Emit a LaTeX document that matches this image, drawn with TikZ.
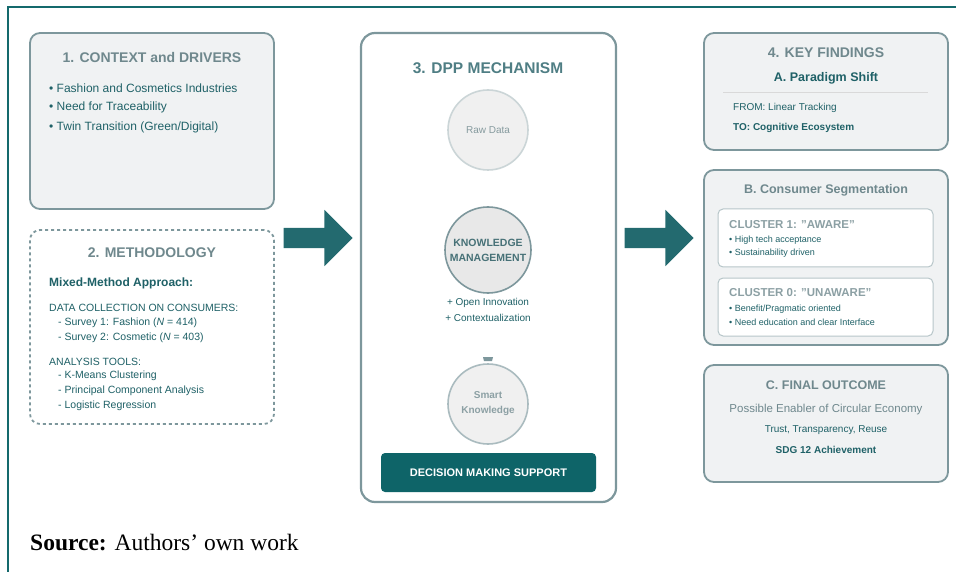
\documentclass[tikz,border=0pt]{standalone}
\usepackage{fontspec}
\setmainfont{Liberation Sans}
\newfontfamily\captionserif{Liberation Serif}
\usepackage{xcolor}
\usepackage{tikz}
\usetikzlibrary{shapes,arrows,positioning,calc,arrows.meta}

\definecolor{frameteal}{HTML}{14696C}
\definecolor{boxline}{HTML}{7D979C}
\definecolor{boxfill}{HTML}{F0F2F3}
\definecolor{titlegray}{HTML}{6F888D}
\definecolor{textteal}{HTML}{1F6167}
\definecolor{dppteal}{HTML}{4F7E84}
\definecolor{supportteal}{HTML}{0E6468}
\definecolor{arrowteal}{HTML}{236A6F}

\begin{document}
\begin{tikzpicture}[x=1pt, y=-1pt,
    panel/.style={rectangle, rounded corners=10pt, draw=boxline, line width=1.8pt, fill=boxfill, inner sep=0pt},
    title/.style={font=\fontsize{14}{16}\selectfont\bfseries, text=titlegray},
    subtitle/.style={font=\fontsize{12.5}{14}\selectfont\bfseries, text=titlegray},
    item/.style={anchor=west, inner sep=0pt, font=\fontsize{12}{14}\selectfont, text=textteal},
    small/.style={anchor=west, inner sep=0pt, font=\fontsize{10.5}{12}\selectfont, text=textteal},
    tiny/.style={anchor=west, inner sep=0pt, font=\fontsize{9}{11}\selectfont, text=textteal},
    cluster/.style={rectangle, rounded corners=5pt, draw=boxline!55, line width=1pt, fill=white, inner sep=0pt, minimum width=215pt, minimum height=58pt},
    stage/.style={circle, minimum size=80pt, inner sep=0pt, align=center, line width=1.6pt},
    bigarrow/.style={single arrow, fill=arrowteal, inner xsep=0pt, inner ysep=10pt, minimum height=69pt, minimum width=56pt, single arrow head extend=18pt, single arrow head indent=0pt}
]

\useasboundingbox (0,0) rectangle (956,572);

% Frame
\draw[frameteal, line width=2.2pt] (8,572) -- (8,7) -- (956,7);

% 1. Context
\node[panel, minimum width=244pt, minimum height=176pt] (context) at (152,121) {};
\node[title] (contexttitle) at (152,57) {1. CONTEXT and DRIVERS};
\node[item] (ctx1) at (49,88) {• Fashion and Cosmetics Industries};
\node[item] (ctx2) at (49,107) {• Need for Traceability};
\node[item] (ctx3) at (49,127) {• Twin Transition (Green/Digital)};

% 2. Methodology
\node[panel, fill=white, dashed, minimum width=244pt, minimum height=194pt] (method) at (152,327) {};
\node[title] (methodtitle) at (152,253) {2. METHODOLOGY};
\node[item, font=\fontsize{12}{14}\selectfont\bfseries] (mixed) at (49,283) {Mixed-Method Approach:};
\node[small] (collect) at (49,308) {DATA COLLECTION ON CONSUMERS:};
\node[small] (survey1) at (58,323) {- Survey 1: Fashion (\textit{N} = 414)};
\node[small] (survey2) at (58,338) {- Survey 2: Cosmetic (\textit{N} = 403)};
\node[small] (tools) at (49,362) {ANALYSIS TOOLS:};
\node[small] (tool1) at (58,376) {- K-Means Clustering};
\node[small] (tool2) at (58,391) {- Principal Component Analysis};
\node[small] (tool3) at (58,406) {- Logistic Regression};

% 3. DPP mechanism
\node[panel, fill=white, rounded corners=14pt, line width=2.2pt, minimum width=255pt, minimum height=469pt] (dpp) at (488.5,267.5) {};
\node[title, font=\fontsize{15.5}{17}\selectfont\bfseries, text=dppteal] (dpptitle) at (488,68) {3. DPP MECHANISM};
\node[stage, fill=black!6, draw=boxline!40, font=\fontsize{10}{11}\selectfont, text=titlegray!85] (raw) at (488,130) {Raw Data};
\node[stage, minimum size=86pt, fill=black!9, draw=boxline, font=\fontsize{10.5}{15}\selectfont\bfseries, text=dppteal!90!black] (km) at (488,250) {KNOWLEDGE\\MANAGEMENT};
\node[small, anchor=center, font=\fontsize{10}{12}\selectfont] (openinno) at (488,303) {+ Open Innovation};
\node[small, anchor=center, font=\fontsize{10}{12}\selectfont] (context2) at (488,318) {+ Contextualization};
\node[stage, fill=black!6, draw=boxline!65, font=\fontsize{10}{15}\selectfont\bfseries, text=titlegray!80] (smart) at (488,404) {Smart\\Knowledge};
\fill[boxline] ($(smart.north)+(-5,-6)$) -- ++(10,0) -- ++(-1,4) -- ++(-8,0) -- cycle;
\node[rectangle, rounded corners=4pt, fill=supportteal, minimum width=215pt, minimum height=39pt, text=white, font=\fontsize{11}{13}\selectfont\bfseries] (support) at (488.5,472.5) {DECISION MAKING SUPPORT};

% Block arrows
\node[bigarrow] (arrowin) at (313,238) {};
\node[bigarrow] (arrowout) at (654,238) {};

% 4. Key findings
\node[panel, minimum width=244pt, minimum height=117pt] (findings) at (826,91.5) {};
\node[title] (findingstitle) at (826,53) {4. KEY FINDINGS};
\node[title, font=\fontsize{12.5}{14}\selectfont\bfseries, text=textteal] (shift) at (826,78) {A. Paradigm Shift};
\draw[black!15, line width=0.8pt] (723,92) -- (928,92);
\node[small, font=\fontsize{10}{12}\selectfont] (from) at (733,108) {FROM: Linear Tracking};
\node[small, font=\fontsize{10}{12}\selectfont\bfseries] (to) at (733,128) {TO: Cognitive Ecosystem};

% B. Segmentation
\node[panel, minimum width=244pt, minimum height=175pt] (segment) at (826,257.5) {};
\node[subtitle] (segmenttitle) at (826,190) {B. Consumer Segmentation};
\node[cluster] (aware) at (825.5,238) {};
\node[item, font=\fontsize{11.5}{13}\selectfont\bfseries, text=titlegray!80] (awaretitle) at (729,225) {CLUSTER 1: "AWARE"};
\node[tiny] (aware1) at (729,240) {• High tech acceptance};
\node[tiny] (aware2) at (729,253) {• Sustainability driven};
\node[cluster] (unaware) at (825.5,307) {};
\node[item, font=\fontsize{11.5}{13}\selectfont\bfseries, text=titlegray!80] (unawaretitle) at (729,293) {CLUSTER 0: "UNAWARE"};
\node[tiny] (unaware1) at (729,309) {• Benefit/Pragmatic oriented};
\node[tiny] (unaware2) at (729,322) {• Need education and clear Interface};

% C. Outcome
\node[panel, minimum width=244pt, minimum height=117pt] (outcome) at (826,423.5) {};
\node[subtitle] (outcometitle) at (826,385) {C. FINAL OUTCOME};
\node[font=\fontsize{11.5}{13}\selectfont, text=titlegray] (enabler) at (826,410) {Possible Enabler of Circular Economy};
\node[font=\fontsize{10}{12}\selectfont, text=textteal] (trust) at (826,430) {Trust, Transparency, Reuse};
\node[font=\fontsize{10}{12}\selectfont\bfseries, text=textteal] (sdg) at (826,450) {SDG 12 Achievement};

% Source line
\node[anchor=west, inner sep=0pt, font=\captionserif\fontsize{23.5}{26}\selectfont] (source) at (30,543) {\textbf{Source:} Authors’ own work};

\end{tikzpicture}
\end{document}
